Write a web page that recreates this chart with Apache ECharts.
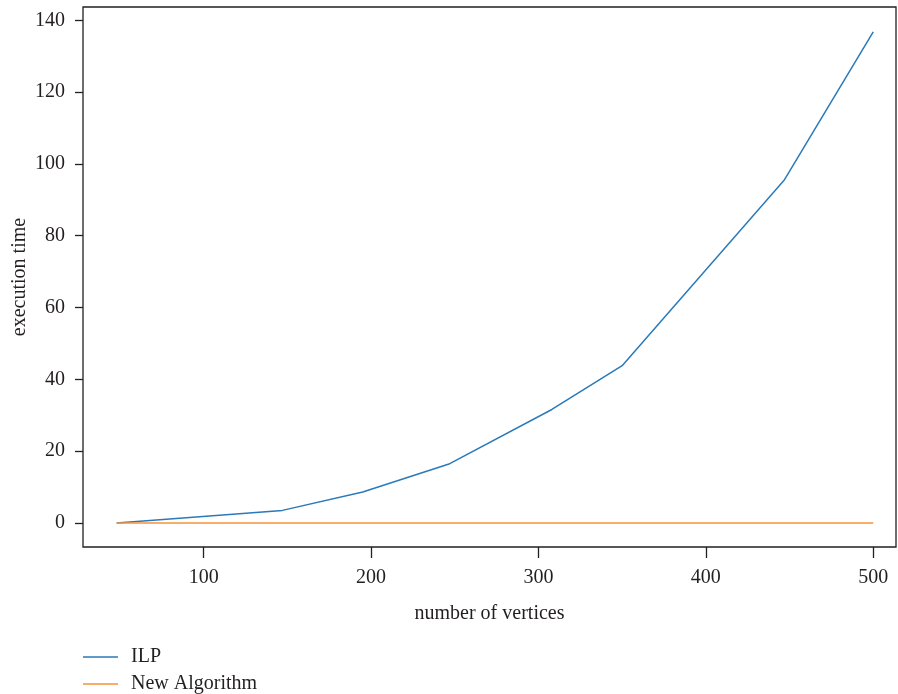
<!DOCTYPE html>
<html>
<head>
<meta charset="utf-8">
<script src="https://cdn.jsdelivr.net/npm/echarts@6/dist/echarts.min.js"></script>
<style>
  html, body { margin: 0; padding: 0; background: #fff; }
  #chart { width: 898px; height: 694px; }
</style>
</head>
<body>
<div id="chart"></div>
<script>
// Execution time vs. number of vertices
const vertices = [48, 147, 195, 247, 308, 350, 447, 500];
const ilpTime = [0, 3.5, 8.6, 16.5, 31.6, 43.8, 95.6, 136.8];
const newAlgTime = [0, 0, 0, 0, 0, 0, 0, 0];
const xTicks = [100, 200, 300, 400, 500];
const yTicks = [0, 20, 40, 60, 80, 100, 120, 140];

const ink = '#231f20';
const serif = '"Liberation Serif", "DejaVu Serif", serif';
const blue = '#2a7ab9';
const orange = '#f7923a';

const pairs = (xs, ys) => xs.map((x, i) => [x, ys[i]]);

const legendItem = (name, top) => ({
  orient: 'vertical',
  left: 83,
  top: top,
  padding: 0,
  itemWidth: 35,
  itemHeight: 1.6,
  icon: 'rect',
  textStyle: { fontFamily: serif, fontSize: 20, color: ink, padding: [0, 0, 0, 8] },
  data: [name]
});

const chart = echarts.init(document.getElementById('chart'), null, { renderer: 'canvas' });
chart.setOption({
  animation: false,
  backgroundColor: '#ffffff',
  textStyle: { fontFamily: serif, color: ink },
  grid: {
    left: 83, right: 2, top: 7, bottom: 147,
    containLabel: false,
    outerBoundsMode: 'none',
    show: true, borderColor: ink, borderWidth: 1.3, backgroundColor: 'transparent'
  },
  xAxis: {
    type: 'value',
    min: 27.9, max: 513.6,
    name: 'number of vertices',
    nameLocation: 'middle',
    nameGap: 57,
    nameMoveOverlap: false,
    nameTextStyle: { fontFamily: serif, fontSize: 20, color: ink },
    axisLine: { show: false, onZero: false },
    axisTick: { show: true, length: 11, inside: false, customValues: xTicks, lineStyle: { color: ink, width: 1.3 } },
    axisLabel: { customValues: xTicks, margin: 21, fontFamily: serif, fontSize: 20, color: ink },
    splitLine: { show: false }
  },
  yAxis: {
    type: 'value',
    min: -6.7, max: 143.7,
    name: 'execution time',
    nameLocation: 'middle',
    nameGap: 53,
    nameMoveOverlap: false,
    nameRotate: 90,
    nameTextStyle: { fontFamily: serif, fontSize: 20, color: ink },
    axisLine: { show: false, onZero: false },
    axisTick: { show: true, length: 8, inside: false, customValues: yTicks, lineStyle: { color: ink, width: 1.3 } },
    axisLabel: { customValues: yTicks, margin: 18, fontFamily: serif, fontSize: 20, color: ink },
    splitLine: { show: false }
  },
  legend: [legendItem('ILP', 647), legendItem('New Algorithm', 674)],
  series: [
    {
      name: 'ILP',
      type: 'line',
      data: pairs(vertices, ilpTime),
      showSymbol: false,
      symbol: 'none',
      lineStyle: { color: blue, width: 1.5 },
      itemStyle: { color: blue }
    },
    {
      name: 'New Algorithm',
      type: 'line',
      data: pairs(vertices, newAlgTime),
      showSymbol: false,
      symbol: 'none',
      lineStyle: { color: orange, width: 1.5 },
      itemStyle: { color: orange }
    }
  ]
});
</script>
</body>
</html>
